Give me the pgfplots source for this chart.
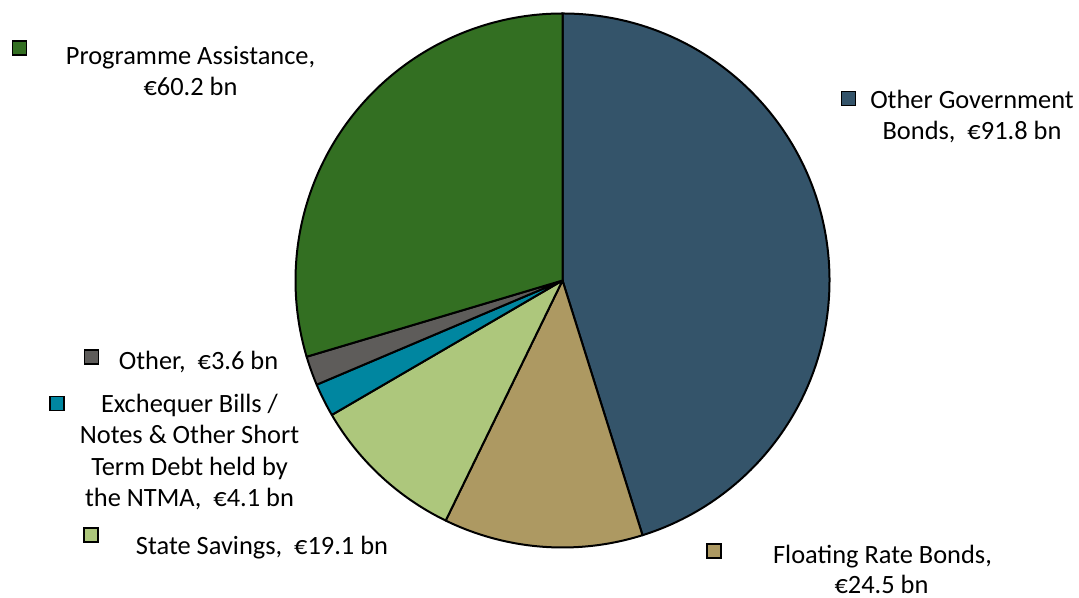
\documentclass[border=0pt]{standalone}
\usepackage{pgfplots}
\pgfplotsset{compat=1.18}
\usepackage{fontspec}
\setmainfont{Carlito}
\definecolor{cGov}{RGB}{52,84,106}
\definecolor{cFlt}{RGB}{173,153,98}
\definecolor{cSav}{RGB}{173,199,124}
\definecolor{cExc}{RGB}{0,134,160}
\definecolor{cOth}{RGB}{94,92,90}
\definecolor{cPrg}{RGB}{51,111,34}
\begin{document}
\begin{tikzpicture}
% values (EUR bn)
\def\vGov{91.8}\def\vFlt{24.5}\def\vSav{19.1}\def\vExc{4.1}\def\vOth{3.6}\def\vPrg{60.2}
\pgfmathsetmacro\tot{\vGov+\vFlt+\vSav+\vExc+\vOth+\vPrg}
\pgfmathsetmacro\aA{90}
\pgfmathsetmacro\aB{\aA-360*(\vGov/\tot)}
\pgfmathsetmacro\aC{\aB-360*(\vFlt/\tot)}
\pgfmathsetmacro\aD{\aC-360*(\vSav/\tot)}
\pgfmathsetmacro\aE{\aD-360*(\vExc/\tot)}
\pgfmathsetmacro\aF{\aE-360*(\vOth/\tot)}
\pgfmathsetmacro\aG{\aF-360*(\vPrg/\tot)}
\def\cx{562.5}\def\cy{317.5}\def\R{267}
\newcommand\slice[3]{\filldraw[fill=#3, draw=black, line width=1pt, line join=round]
  (axis cs:\cx,\cy) -- (axis cs:{\cx+\R*cos(#1)},{\cy+\R*sin(#1)})
  arc[start angle=#1, end angle=#2, radius=133.5pt] -- cycle;}
\newcommand\key[3]{\node[draw=black, line width=0.75pt, fill=#3, minimum size=7pt, inner sep=0pt] at (axis cs:#1,#2) {};}
\begin{axis}[scale only axis, width=539.5pt, height=299pt,
  xmin=0, xmax=1079, ymin=0, ymax=598, hide axis, clip=false]
\path (axis cs:0,0) rectangle (axis cs:1079,598);
\slice{\aA}{\aB}{cGov}
\slice{\aB}{\aC}{cFlt}
\slice{\aC}{\aD}{cSav}
\slice{\aD}{\aE}{cExc}
\slice{\aE}{\aF}{cOth}
\slice{\aF}{\aG}{cPrg}
\key{19.7}{550.2}{cPrg}
\key{848.3}{499.7}{cGov}
\key{91.7}{241}{cOth}
\key{57}{194.3}{cExc}
\key{91}{63}{cSav}
\key{714}{47}{cFlt}
\tikzset{lbl/.style={anchor=base, inner sep=0pt, font=\fontsize{13.2}{15.5}\selectfont}}
\node[lbl] at (axis cs:190.5,533) {Programme Assistance,};
\node[lbl] at (axis cs:190.5,502) {€60.2 bn};
\node[lbl] at (axis cs:972,489.7) {Other Government};
\node[lbl] at (axis cs:972,458.7) {Bonds,~~€91.8 bn};
\node[lbl] at (axis cs:198.5,228.7) {Other,~~€3.6 bn};
\node[lbl] at (axis cs:189.5,185.7) {Exchequer Bills /};
\node[lbl] at (axis cs:189.5,154.2) {Notes \& Other Short};
\node[lbl] at (axis cs:189.5,122.7) {Term Debt held by};
\node[lbl] at (axis cs:189.5,91.2) {the NTMA,~~€4.1 bn};
\node[lbl] at (axis cs:262,43) {State Savings,~~€19.1 bn};
\node[lbl] at (axis cs:882.5,34.7) {Floating Rate Bonds,};
\node[lbl] at (axis cs:881.5,4.7) {€24.5 bn};
\end{axis}
\end{tikzpicture}
\end{document}
